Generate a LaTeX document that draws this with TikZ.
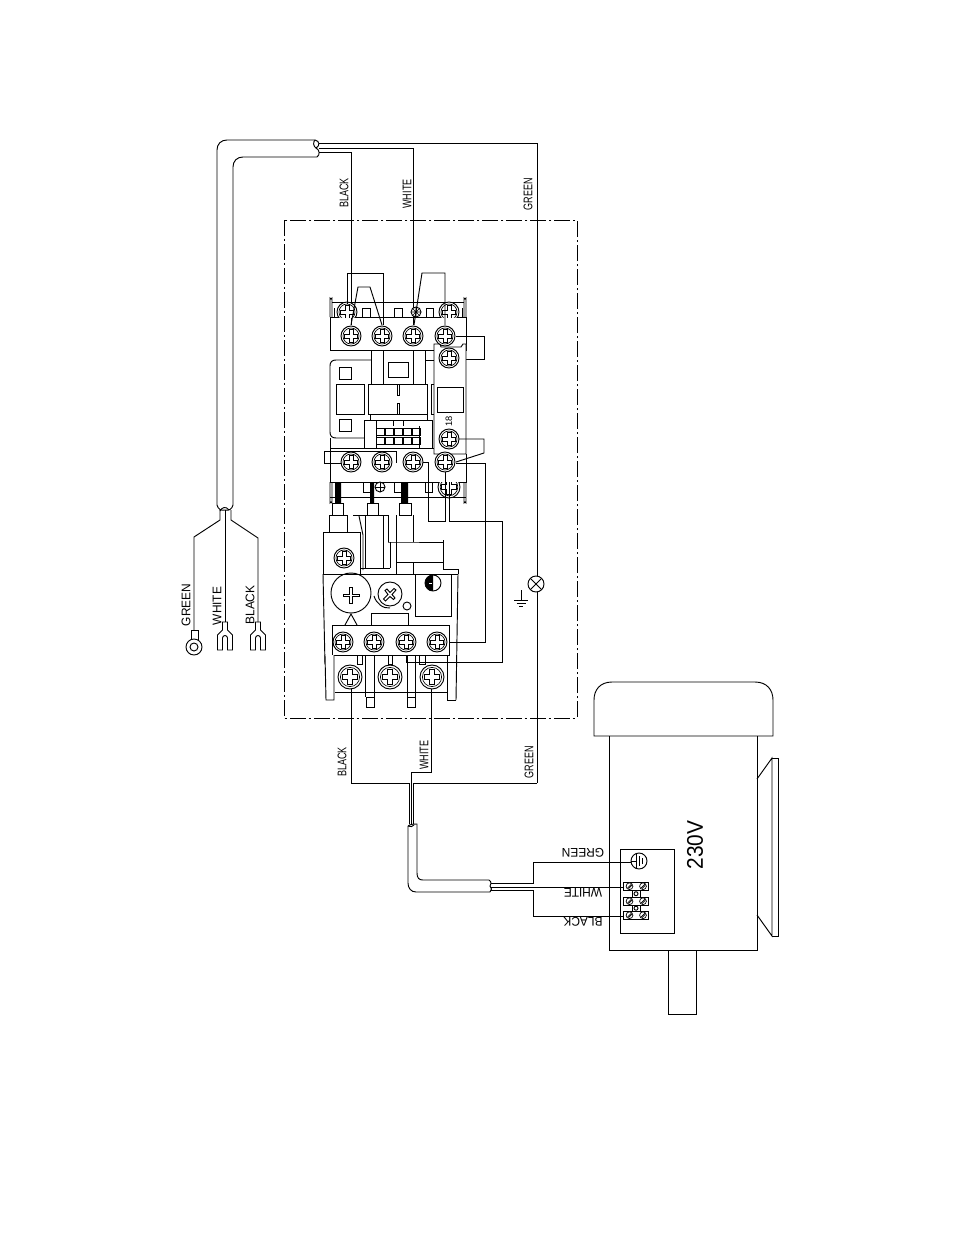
\documentclass[tikz,border=0pt]{standalone}
\usepackage{fontspec}
\newfontfamily\cadA[FakeStretch=0.72]{Liberation Sans}
\newfontfamily\cadB[FakeStretch=0.95]{Liberation Sans}
\newfontfamily\cadC[FakeStretch=0.92]{Liberation Sans}
\newfontfamily\cadN{Liberation Sans}
\tikzset{
 ln/.style={line width=0.7pt,black},
 thinln/.style={line width=0.5pt,black},
 lab/.style={inner sep=0pt,rotate=90,font=\cadA\fontsize{9.4}{10}\selectfont},
 labw/.style={inner sep=0pt,rotate=90,font=\cadB\fontsize{9.4}{10}\selectfont},
 labm/.style={inner sep=0pt,rotate=180,font=\cadB\fontsize{9.4}{10}\selectfont},
}
\newcommand{\scr}[3]{\begin{scope}[shift={(#1,#2)},scale=#3]
 \draw[ln,fill=white] (0,0) circle [radius=1];
 \draw[thinln] (0,0) circle [radius=.8];
 \draw[ln,fill=white] (-.2,-.65)--(.2,-.65)--(.2,-.2)--(.65,-.2)--(.65,.2)--(.2,.2)--(.2,.65)--(-.2,.65)--(-.2,.2)--(-.65,.2)--(-.65,-.2)--(-.2,-.2)--cycle;
\end{scope}}
\newcommand{\mini}[2]{\begin{scope}[shift={(#1,#2)}]
 \draw[thinln,fill=white] (0,0) circle [radius=3.4];
 \draw[thinln] (-2,2)--(2,-2);
 \draw[thinln] (-1,2.4)--(2.4,-1);
\end{scope}}
\newcommand{\forkk}[1]{\begin{scope}[shift={(#1,622)}]
 \draw[ln] (-2.5,0)--(2.5,0)--(2.5,8)--(7.5,13)--(7.5,28)--(2.5,28)--(2.5,16) arc[start angle=0,end angle=-180,radius=2.5]--(-2.5,28)--(-7.5,28)--(-7.5,13)--(-2.5,8)--cycle;
\end{scope}}
\begin{document}
\begin{tikzpicture}[x=.75pt,y=-.75pt]
\useasboundingbox (0,0) rectangle (954,1235);
\fill[white] (0,0) rectangle (954,1235);

% enclosure
\draw[ln,dash pattern=on 12pt off 2pt on 2pt off 2pt] (284,220) rectangle (577,718);

% mains cable
\draw[ln] (315,140)--(227,140) .. controls (221,140) and (217,144) .. (217,150)--(217,505);
\draw[ln] (317,157)--(243,157) .. controls (237,157) and (233,161) .. (233,167)--(233,505);
\draw[ln] (315,140) .. controls (320,141) and (320,146) .. (316,148) .. controls (320,150) and (320,155) .. (317,157);
\draw[ln] (315,140) .. controls (313,142) and (313,146) .. (316,148);
\draw[ln] (217,505) .. controls (218,509) and (221,511) .. (225,510) .. controls (229,511) and (232,509) .. (233,505);
\draw[ln] (220,511) .. controls (222,507) and (226,506) .. (229,510);
% mains tails
\draw[ln] (220,510)--(220,520)--(194,537)--(194,630);
\draw[ln] (225,510)--(225,622);
\draw[ln] (231,510)--(231,520)--(258,538)--(258,622);
\draw[ln] (191.5,630) rectangle (198,640);
\draw[ln,fill=white] (194,647) circle [radius=8];
\draw[ln] (194,647) circle [radius=4];
\forkk{225}\forkk{258}
\node[labw] (lg1) at (186,605) {GREEN};
\node[labw] (lw1) at (217,606) {WHITE};
\node[labw] (lb1) at (250,605) {BLACK};

% mains wires
\draw[ln] (319,143)--(537,143)--(537,576);
\draw[ln] (319,148)--(413,148)--(413,325);
\draw[ln] (319,152)--(351,152)--(351,325);
\node[lab] (lb2) at (344,193) {BLACK};
\node[lab] (lw2) at (407,194) {WHITE};
\node[lab] (lg2) at (528,194) {GREEN};

% earth
\draw[ln] (537,592)--(537,783);
\draw[ln] (536,584) circle [radius=8];
\draw[ln] (530.5,578.5)--(541.5,589.5) (530.5,589.5)--(541.5,578.5);
\draw[ln] (521,590)--(521,600) (514,600)--(528,600) (516.5,603)--(525.5,603) (519,606)--(523,606);

% contactor body
\draw[ln] (332,302)--(464,302);
\draw[ln] (330,317) rectangle (466,350);
\draw[ln] (330,317)--(330,298) arc[start angle=180,end angle=0,radius=1]--(332,317);
\draw[ln] (464,317)--(464,298) arc[start angle=180,end angle=0,radius=1]--(466,317);
\draw[ln] (362,308) rectangle (370,317) (394,308) rectangle (402,317) (426,308) rectangle (433,317) (334,308)--(334,317) (462,308)--(462,317);
\begin{scope}
\clip (330,290) rectangle (466,317);
\scr{347}{312}{10}
\scr{449}{312}{10}
\end{scope}
\draw[ln,fill=white] (416,312) circle [radius=5];
\draw[thinln] (413,309)--(419,315) (419,309)--(413,315) (416,307)--(416,317) (411,312)--(421,312);
% top jumpers
\draw[ln] (347,304)--(347,273)--(383,273)--(383,325);
\draw[ln] (351,325)--(358,287)--(370,287)--(382,325);
\draw[ln] (414,325)--(422,273)--(445,273)--(445,325);
\draw[ln] (456,336)--(484,336)--(484,359)--(458,359);
% mid section
\draw[ln] (371,350)--(371,384) (383,350)--(383,384) (413,350)--(413,384) (425,350)--(425,384);
\draw[ln] (371,360)--(336,360) .. controls (332,360) and (330,362) .. (330,366)--(330,432) .. controls (330,436) and (332,438) .. (336,438)--(364,438);
\draw[ln] (330,438)--(330,448) (425,360)--(434,360);
\draw[ln] (388,362) rectangle (408,377);
\draw[ln] (339,367) rectangle (351,379) (339,419) rectangle (351,431);
\draw[ln] (336,384) rectangle (364,414);
\draw[ln] (368,384) rectangle (427,414);
\draw[ln] (397,384)--(397,395)--(399,395)--(399,384) (397,414)--(397,403)--(399,403)--(399,414);
\draw[ln] (434,384)--(431,384)--(431,414)--(434,414);
\draw[ln] (370,414)--(370,420) (427,414)--(427,420);
\draw[ln] (364,420)--(432,420) (364,420)--(364,448) (376,420)--(376,448) (432,420)--(432,448);
\foreach \a in {376,385,394,403,412}{
 \draw[thinln] (\a,428) rectangle ++(8.5,7);
 \draw[thinln] (\a,437) rectangle ++(8.5,7);
}
\draw[thinln] (393,420)--(393,426) (403,420)--(403,426) (419,426)--(419,448);
% aux block
\draw[ln,fill=white] (434,344)--(440,344)--(441,347)--(461,347)--(463,344)--(466,344)--(466,454)--(434,454)--cycle;
\draw[ln] (437,387) rectangle (463,412);
\node[inner sep=0pt,rotate=90,font=\cadN\fontsize{7}{8}\selectfont] (n18) at (449,421) {18};
% lower terminal row
\draw[ln] (330,448)--(434,448) (330,448)--(330,482)--(466,482)--(466,454);
\draw[ln] (324,451.5)--(396,451.5)--(396,463) (324,451.5)--(324,463)--(345,463);
% wires of lower row
\draw[ln] (456,439)--(484,439)--(484,453)--(456,462);
\draw[ln] (456,463)--(485,463)--(485,642)--(448,642);
\draw[ln] (422,462)--(428,462)--(428,521)--(445,521)--(445,470);
\draw[ln] (449,498)--(449,521)--(502,521)--(502,662)--(406,662)--(406,652);
% screws
\foreach \a in {351,382,413,445}{\scr{\a}{336}{10}\scr{\a}{462}{10}}
\scr{449}{358}{10}
\scr{449}{439}{10}
% contactor foot
\draw[ln] (363,482) rectangle (370,492) (394,482) rectangle (402,492) (425,482) rectangle (432,492);
\draw[ln] (330,497)--(466,497);
\draw[ln] (330,482)--(330,503) arc[start angle=180,end angle=360,radius=1]--(332,482);
\draw[ln] (464,482)--(464,503) arc[start angle=180,end angle=360,radius=1]--(466,482);
\begin{scope}
\clip (434,482) rectangle (464,500);
\scr{449}{487}{11}
\end{scope}
\draw[ln,fill=white] (380,487) circle [radius=5];
\draw[thinln] (375,487)--(385,487) (380,482)--(380,492);
\draw[ln] (445,482)--(445,521) (449,482)--(449,521);
\fill[black] (335,482) rectangle (341,503) (370,482) rectangle (374,503) (401,482) rectangle (408,503);

% relay
\draw[ln] (332,503) rectangle (343,515) (367,503) rectangle (378,515) (399,503) rectangle (411,515);
\draw[ln] (329,515) rectangle (347,532);
\draw[ln] (323,532) rectangle (360,574);
\scr{344}{558}{10}
\draw[ln] (353,515)--(388,515);
\draw[ln] (359,516)--(363,535)--(363,570);
\draw[ln] (365,515)--(365,568) (383,515)--(383,568) (388,515)--(388,542) (390,542)--(390,568) (361,568)--(390,568);
\draw[ln] (396,515)--(396,542) (413,515)--(413,542);
\draw[ln] (388,542)--(396,542)--(443,542);
\draw[ln] (396,542)--(396,574) (443,540)--(443,569)--(458,569)--(458,574);
\draw[ln] (396,562)--(443,562) (413,562)--(413,574);
\draw[ln] (323,574)--(458,574);
\draw[ln] (323,574)--(325,664) (458,574)--(456,700);
\draw[ln] (415,574)--(415,616)--(451,616)--(451,574);
\draw[ln] (433,583) circle [radius=8];
\fill[black] (433,575) arc[start angle=-90,end angle=-270,radius=8]--cycle;
\draw[white,line width=.6pt] (429,583)--(432,583);
\draw[ln] (351,593) circle [radius=20];
\draw[ln] (343,594)--(349.5,594)--(349.5,587)--(352.5,587)--(352.5,594)--(359,594)--(359,596.5)--(352.5,596.5)--(352.5,603)--(349.5,603)--(349.5,596.5)--(343,596.5)--cycle;
\draw[ln] (390,594) circle [radius=12];
\draw[ln] (383.5,599)--(388,594.5)--(385,590.5)--(387,589)--(390,592.5)--(394,588.5)--(396,590)--(392,594.5)--(395,598)--(393.5,599.5)--(390,596.5)--(385.5,601)--cycle;
\draw[ln] (374,596) .. controls (376,603) and (383,609) .. (390,608);
\draw[ln] (407,606) circle [radius=4];
\draw[ln] (371,625)--(371,613)--(408,613)--(408,625);
\draw[ln] (345,625)--(351,614)--(357,625);
% relay terminal block
\draw[ln,fill=white] (332,625) rectangle (449,655);
\draw[ln,fill=white] (334,655)--(334,700)--(326,700)--(325,655);
\draw[ln] (365,655)--(365,697) (374,655)--(374,697) (407,655)--(407,697) (415,655)--(415,697) (447,655)--(447,700)--(456,700);
\draw[ln] (335,692)--(447,692);
\draw[ln] (366,697) rectangle (374,707) (407,697) rectangle (415,707);
\draw[ln] (357,655) rectangle (362,664) (388,655) rectangle (392,664) (419,655) rectangle (425,664);
\foreach \a in {343,374,406,437}{\scr{\a}{642}{10}}
% motor leads
\draw[ln] (351,689)--(351,783)--(409,783)--(409,824);
\draw[ln] (431,689)--(431,772)--(411,772)--(411,824);
\draw[ln] (537,783)--(413,783)--(413,824);
\scr{350}{677}{12}\scr{390}{677}{12}\scr{432}{677}{12}
\node[labw,font=\cadA\fontsize{9.4}{10}\selectfont] (lb3) at (342,762) {BLACK};
\node[lab] (lw3) at (424,755) {WHITE};
\node[lab] (lg3) at (529,762) {GREEN};

% motor cable
\draw[ln] (408,826)--(408,883) .. controls (408,888) and (411,892) .. (416,892)--(490,892);
\draw[ln] (408,826) .. controls (410,824) and (415,824) .. (417,824)--(417,873) .. controls (417,878) and (419,880) .. (423,880)--(489,880);
\draw[ln] (408,826) .. controls (410,827) and (413,827) .. (414,825);
\draw[ln] (489,880) .. controls (492,882) and (491,885) .. (490,886) .. controls (492,888) and (492,890) .. (490,892);
% motor
\draw[ln] (594,736)--(594,700) .. controls (594,690) and (600,682) .. (612,682)--(755,682) .. controls (767,682) and (773,690) .. (773,700)--(773,736)--cycle;
\draw[ln] (609,736)--(609,950)--(757,950)--(757,736);
\draw[ln] (757,779)--(772,758)--(772,936)--(757,915);
\draw[ln] (772,758)--(778,758)--(778,936)--(772,936);
\draw[ln] (668,950)--(668,1014)--(696,1014)--(696,950);
\node[inner sep=0pt,rotate=90,font=\cadC\fontsize{17}{18}\selectfont] (v230) at (695,845) {230V};
% terminal box
\draw[ln] (620,849) rectangle (674,933);
\draw[ln] (491,883)--(533,883)--(533,862)--(631,862);
\draw[ln] (491,887)--(625,887);
\draw[ln] (491,890)--(533,890)--(533,916)--(625,916);
\draw[ln] (639,861) circle [radius=8];
\draw[ln] (636,853)--(636,869) (639,856)--(639,866) (642,858)--(642,864) (631,861)--(636,861);
\foreach \b in {882,897,911}{
 \draw[ln,fill=white] (623,\b) rectangle (648,\b+8.5);
 \mini{629.5}{\b+4.2}\mini{643}{\b+4.2}
}
\draw[ln] (632,890.5) rectangle (640,897) (632,905.5) rectangle (640,911);
\draw[ln] (636,893.7) circle [radius=2] (636,908.2) circle [radius=2];
\node[labm] (lg4) at (583,853) {GREEN};
\node[labm] (lw4) at (583,893) {WHITE};
\node[labm] (lb4) at (583,922) {BLACK};
\end{tikzpicture}
\end{document}
